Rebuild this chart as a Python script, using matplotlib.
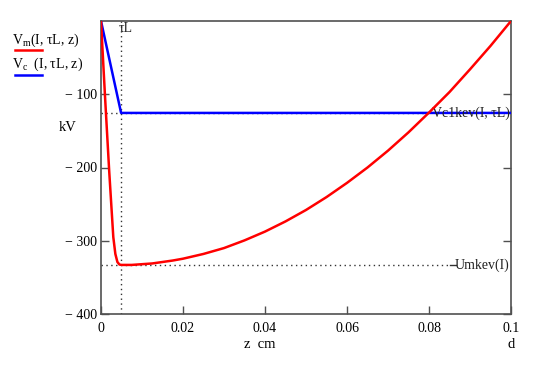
import matplotlib
matplotlib.use("Agg")
import matplotlib.pyplot as plt

# data
z_m = [0, 0.001, 0.002, 0.003, 0.0035, 0.004, 0.0045, 0.005, 0.0075, 0.01, 0.0125, 0.015,
       0.0175, 0.02, 0.025, 0.03, 0.035, 0.04, 0.045, 0.05, 0.055, 0.06, 0.065,
       0.07, 0.075, 0.08, 0.085, 0.09, 0.095, 0.1]
v_m = [0, -105, -205, -295, -318, -329, -332.5, -333, -333, -332, -331, -329,
       -327, -324.5, -318, -310, -299.5, -287.5, -273.6, -258, -240.4, -221, -200,
       -177, -152, -125, -97, -66, -34, 0]
z_c = [0, 0.0049, 0.1]
v_c = [0, -125.5, -125.5]
tauL = 0.0049
vc1kev = -125.5
umkev = -333.5
xticks = [0, 0.02, 0.04, 0.06, 0.08, 0.1]
xticklabels = ["0", "0.02", "0.04", "0.06", "0.08", "0.1"]
yticks = [-400, -300, -200, -100]
yticklabels = ["\u2212 400", "\u2212 300", "\u2212 200", "\u2212 100"]

plt.rcParams['font.family'] = ['Liberation Serif', 'DejaVu Serif']
fig = plt.figure(figsize=(5.38, 3.66), dpi=100)
ax = fig.add_axes([101/538, 1-314/366, 410/538, 293/366])

frame = "#505050"
dot = (0, (1.0, 2.5))
ax.axvline(tauL, color="#333333", ls=dot, lw=1.0, zorder=1)
ax.plot([0, 0.0805], [vc1kev, vc1kev], color="#333333", ls=dot, lw=1.0, zorder=1)
ax.plot([0, 0.085], [umkev, umkev], color="#333333", ls=dot, lw=1.0, zorder=1)
ax.plot([0.0852, 0.0866], [umkev, umkev], color="#333333", lw=1.0, zorder=1)

ax.plot(z_c, v_c, color="#0000ff", lw=1.8, zorder=3)
ax.plot(z_m, v_m, color="#ff0000", lw=1.8, zorder=4)

ax.set_xlim(0, 0.1)
ax.set_ylim(-400, 0)
ax.set_xticks(xticks)
ax.set_xticklabels(xticklabels)
ax.set_yticks(yticks)
ax.set_yticklabels(yticklabels)
ax.tick_params(direction="in", length=6, width=1.0, color=frame, labelsize=10,
               right=True)
ax.tick_params(axis="x", pad=6)
ax.tick_params(axis="y", pad=3)
for s in ax.spines.values():
    s.set_color(frame)
    s.set_linewidth(1.2)

fs = 10
ax.text(tauL + 0.0012, -10, "\u03c4L", fontsize=fs, ha="center", va="center", color="#222222")
ax.text(0.0998, vc1kev, "Vc1kev(I, \u03c4L)", fontsize=fs, ha="right", va="center", color="#222222")
ax.text(0.0995, umkev, "Umkev(I)", fontsize=fs, ha="right", va="center", color="#222222")

fig.text(68/538, 1-128/366, "kV", fontsize=10.5, ha="center", va="center")
fig.text(260/538, 1-345/366, "z  cm", fontsize=10.5, ha="center", va="center")
fig.text(511/538, 1-345/366, "d", fontsize=10.5, ha="center", va="center")

fig.text(12/538, 1-40/366, "V$_{\\mathregular{m}}$(I, \u03c4L, z)", fontsize=fs, ha="left", va="center")
fig.lines.append(plt.Line2D([15/538, 42/538], [1-50/366, 1-50/366], transform=fig.transFigure, color="#ff0000", lw=1.8))
fig.text(12/538, 1-64/366, "V$_{\\mathregular{c}}$  (I, \u03c4L, z)", fontsize=fs, ha="left", va="center")
fig.lines.append(plt.Line2D([15/538, 42/538], [1-75/366, 1-75/366], transform=fig.transFigure, color="#0000ff", lw=1.8))

fig.savefig("out.png", dpi=100)
